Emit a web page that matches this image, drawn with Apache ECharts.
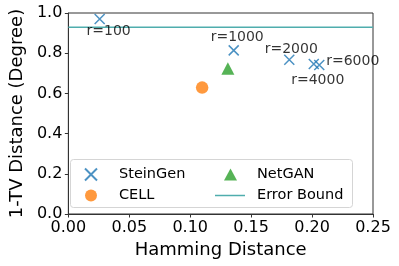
<!DOCTYPE html>
<html><head><meta charset="utf-8">
<script src="https://cdn.jsdelivr.net/npm/echarts@6/dist/echarts.min.js"></script>
<style>html,body{margin:0;padding:0;background:#fff}#c{width:399px;height:266px}</style>
</head><body><div id="c"></div>
<script>
// Data
const steinGenLabels = ['r=100', 'r=1000', 'r=2000', 'r=4000', 'r=6000'];
const steinGenX = [0.0257, 0.1357, 0.1813, 0.2014, 0.2059];
const steinGenY = [0.970, 0.814, 0.767, 0.746, 0.741];
const cellX = [0.1098];
const cellY = [0.629];
const netganX = [0.1309];
const netganY = [0.7235];
const errorBound = 0.929;
const xTicks = [0, 0.05, 0.10, 0.15, 0.20, 0.25];
const yTicks = [0, 0.2, 0.4, 0.6, 0.8, 1.0];

// label placement (style only)
const labelOffsets = [[9, 12], [3.5, -13], [2, -10], [4, 16], [33.5, -4]];

const FONT = 'DejaVu Sans';
const chart = echarts.init(document.getElementById('c'), null, {renderer: 'canvas'});
const crossPath = 'path://M0,0L10,10M10,0L0,10';
const linePath = 'path://M0,0L30,0L30,1.5L0,1.5Z';
const legendText = {fontFamily: FONT, fontSize: 14.5, color: '#000'};

chart.setOption({
  animation: false,
  backgroundColor: '#fff',
  grid: {left: 62, right: 26, top: 13, bottom: 52, show: true, borderColor: '#333', borderWidth: 1},
  xAxis: {
    type: 'value', min: xTicks[0], max: xTicks[xTicks.length - 1], interval: 0.05,
    name: 'Hamming Distance', nameLocation: 'middle', nameGap: 25,
    nameTextStyle: {fontFamily: FONT, fontSize: 18, color: '#000'},
    axisLine: {show: true, lineStyle: {color: '#333', width: 1}},
    axisTick: {show: true, length: 3.5, lineStyle: {color: '#333'}},
    axisLabel: {fontFamily: FONT, fontSize: 16, color: '#000', margin: 6, formatter: v => v.toFixed(2)},
    splitLine: {show: false}
  },
  yAxis: {
    type: 'value', min: yTicks[0], max: yTicks[yTicks.length - 1], interval: 0.2,
    name: '1-TV Distance (Degree)', nameLocation: 'middle', nameGap: 38,
    nameTextStyle: {fontFamily: FONT, fontSize: 18, color: '#000'},
    axisLine: {show: true, lineStyle: {color: '#333', width: 1}},
    axisTick: {show: true, length: 3.5, lineStyle: {color: '#333'}},
    axisLabel: {fontFamily: FONT, fontSize: 16, color: '#000', margin: 6, formatter: v => v.toFixed(1)},
    splitLine: {show: false}
  },
  legend: [
    {
      data: [{name: 'SteinGen', icon: crossPath}, {name: 'CELL', icon: 'circle'}],
      orient: 'vertical', left: 84, top: 167, padding: 0,
      itemWidth: 12, itemHeight: 12, itemGap: 6, symbolKeepAspect: true,
      textStyle: Object.assign({padding: [0, 0, 0, 17]}, legendText)
    },
    {
      data: [{name: 'NetGAN', icon: 'triangle'}],
      orient: 'vertical', left: 224, top: 167, padding: 0,
      itemWidth: 13, itemHeight: 12, itemGap: 6,
      textStyle: Object.assign({padding: [0, 0, 0, 15]}, legendText)
    },
    {
      data: [{name: 'Error Bound', icon: linePath}],
      orient: 'vertical', left: 215, top: 188, padding: 0,
      itemWidth: 30, itemHeight: 12, itemGap: 6, symbolKeepAspect: true,
      textStyle: Object.assign({padding: [0, 0, 0, 7]}, legendText)
    }
  ],
  graphic: [{
    type: 'rect', left: 70, top: 159, z: 0,
    shape: {width: 282, height: 48, r: 3},
    style: {fill: 'rgba(255,255,255,0.8)', stroke: '#d5d5d5', lineWidth: 1}
  }],
  series: [
    {
      name: 'Error Bound', type: 'line', showSymbol: false, symbol: 'none',
      lineStyle: {color: '#4fadad', width: 1.5}, itemStyle: {color: '#4fadad'},
      data: [[xTicks[0], errorBound], [xTicks[xTicks.length - 1], errorBound]], z: 1
    },
    {
      name: 'SteinGen', type: 'scatter', symbol: crossPath, symbolSize: 10,
      itemStyle: {color: 'rgba(0,0,0,0)', borderColor: '#1f77b4', borderWidth: 1.5},
      data: steinGenX.map((x, i) => ({
        value: [x, steinGenY[i]],
        label: {show: true, position: 'inside', offset: labelOffsets[i], formatter: steinGenLabels[i],
          fontFamily: FONT, fontSize: 14, color: '#000', textBorderWidth: 0, textBorderColor: 'transparent'}
      })), z: 3
    },
    {
      name: 'CELL', type: 'scatter', symbol: 'circle', symbolSize: 12.5,
      itemStyle: {color: '#ff7f0e'},
      data: cellX.map((x, i) => [x, cellY[i]]), z: 3
    },
    {
      name: 'NetGAN', type: 'scatter', symbol: 'triangle', symbolSize: [13, 12.5],
      itemStyle: {color: '#2ca02c'},
      data: netganX.map((x, i) => [x, netganY[i]]), z: 3
    }
  ]
});
</script></body></html>
